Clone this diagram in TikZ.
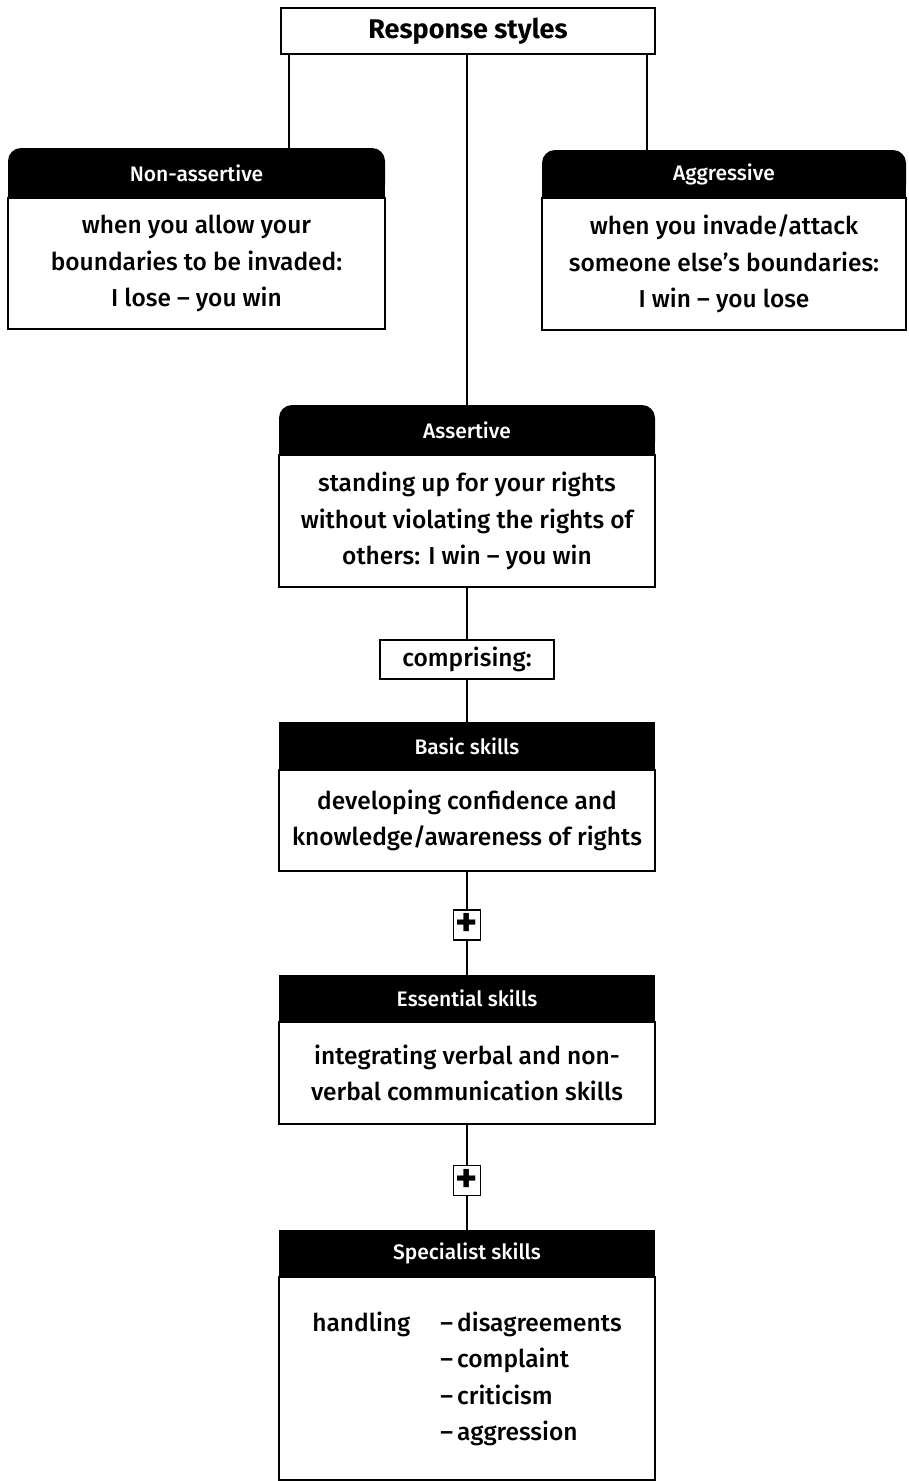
\documentclass[tikz,border=0pt]{standalone}
\usepackage{fontspec}
\setmainfont{Fira Sans}[UprightFont=* Medium, BoldFont=* Bold]
\usetikzlibrary{backgrounds}
\begin{document}
\begin{tikzpicture}[x=1pt,y=-1pt,
  line width=1.5pt,
  every node/.style={inner sep=0pt, outer sep=0pt, font=\fontsize{24.5}{36.5}\selectfont},
  titlebox/.style={draw, fill=white, font=\fontsize{27}{36}\selectfont\bfseries},
  hdr/.style={fill=black, text=white, font=\fontsize{21}{24}\selectfont},
  roundhdr/.style={hdr, rounded corners=13pt},
  bodybox/.style={draw, fill=white, align=center},
  smallbox/.style={draw, fill=white},
  plusbox/.style={draw, fill=white, font=\fontsize{42}{42}\selectfont\bfseries},
  link/.style={draw, line width=1.5pt}
]
\useasboundingbox (0,0) rectangle (908,1481);

% title
\node[titlebox, minimum width=374pt, minimum height=46pt] (title) at (468,31) {Response styles};

% non-assertive
\node[roundhdr, minimum width=377pt, minimum height=50pt] (nah) at (196.5,173) {Non-assertive};
\node[bodybox, minimum width=377pt, minimum height=131pt] (nab) at (196.5,263.5)
  {when you allow your\\boundaries to be invaded:\\I lose -- you win};

% aggressive
\node[roundhdr, minimum width=364pt, minimum height=48pt] (agh) at (724,174) {Aggressive};
\node[bodybox, minimum width=364pt, minimum height=132pt] (agb) at (724,264)
  {when you invade/attack\\someone else’s boundaries:\\I win -- you lose};

% assertive
\node[roundhdr, minimum width=376pt, minimum height=50pt] (ash) at (467,430) {Assertive};
\node[bodybox, minimum width=376pt, minimum height=132pt] (asb) at (467,521)
  {standing up for your rights\\without violating the rights of\\others: I win -- you win};

% comprising
\node[smallbox, minimum width=174pt, minimum height=39pt] (comp) at (467,659.5) {comprising:};

% basic skills
\node[hdr, minimum width=376pt, minimum height=48pt] (bsh) at (467,746) {Basic skills};
\node[bodybox, minimum width=376pt, minimum height=101pt] (bsb) at (467,820.5)
  {developing confidence and\\knowledge/awareness of rights};

\node[plusbox, minimum width=27pt, minimum height=30pt] (p1) at (467,925) {+};

% essential skills
\node[hdr, minimum width=376pt, minimum height=47pt] (esh) at (467,998.5) {Essential skills};
\node[bodybox, minimum width=376pt, minimum height=102pt] (esb) at (467,1073)
  {integrating verbal and non-\\verbal communication skills};

\node[plusbox, minimum width=27pt, minimum height=30pt] (p2) at (467,1180.5) {+};

% specialist skills
\node[hdr, minimum width=376pt, minimum height=47pt] (sph) at (467,1253.5) {Specialist skills};
\node[bodybox, minimum width=376pt, minimum height=203pt] (spb) at (467,1378.5)
  {\begin{tabular}{@{}l@{\hspace{30pt}}l@{}}
   handling & --\,disagreements\\
            & --\,complaint\\
            & --\,criticism\\
            & --\,aggression
   \end{tabular}};

% square off the lower corners of the rounded headers
\begin{scope}[on background layer]
  \fill (nah.west) rectangle (nah.south east);
  \fill (agh.west) rectangle (agh.south east);
  \fill (ash.west) rectangle (ash.south east);
\end{scope}

% connectors
\begin{scope}[on background layer]
  \draw[link] ([xshift=8pt]title.south west) -- ([xshift=8pt]title.south west |- nah.north);
  \draw[link] ([xshift=-8pt]title.south east) -- ([xshift=-8pt]title.south east |- agh.north);
  \draw[link] (title.south -| ash.north) -- (ash.north);
  \draw[link] (asb.south) -- (asb.south |- comp.north);
  \draw[link] (comp.south) -- (comp.south |- bsh.north);
  \draw[link] (bsb.south) -- (bsb.south |- p1.north);
  \draw[link] (p1.south) -- (p1.south |- esh.north);
  \draw[link] (esb.south) -- (esb.south |- p2.north);
  \draw[link] (p2.south) -- (p2.south |- sph.north);
\end{scope}
\end{tikzpicture}
\end{document}
